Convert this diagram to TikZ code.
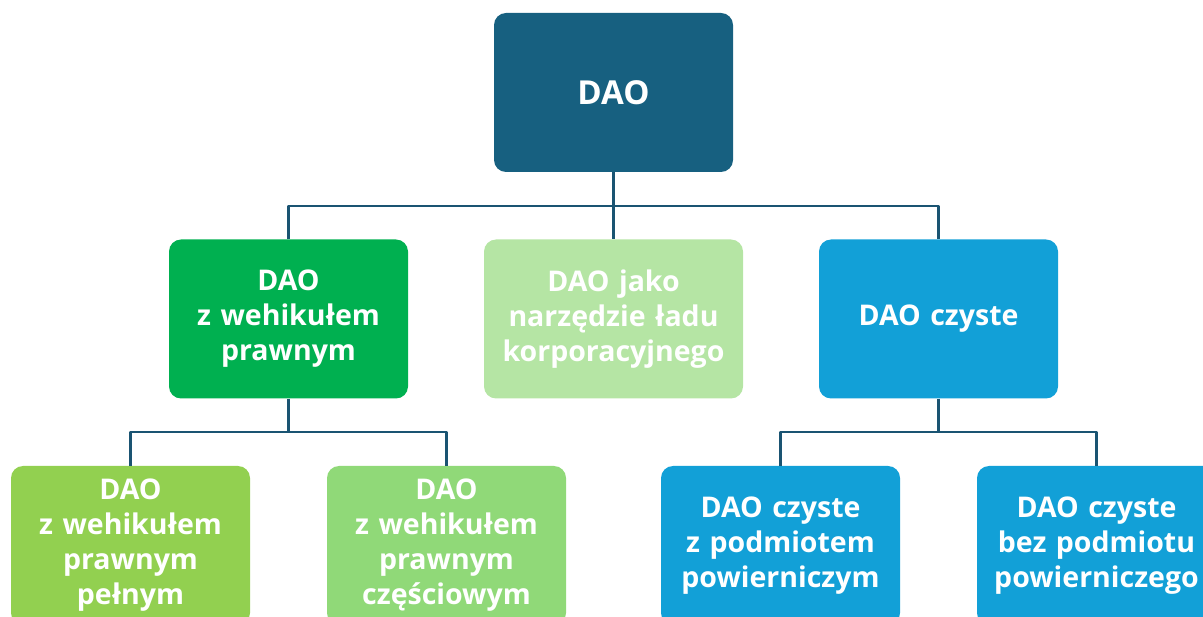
\documentclass[tikz,border=0pt]{standalone}
\usepackage{fontspec}
\setmainfont{Open Sans}
\definecolor{daoblue}{RGB}{23,96,128}
\definecolor{linkblue}{RGB}{26,84,114}
\definecolor{prawgreen}{RGB}{0,176,80}
\definecolor{ladgreen}{RGB}{181,229,164}
\definecolor{czysteblue}{RGB}{18,160,215}
\definecolor{pelgreen}{RGB}{146,208,80}
\definecolor{czesgreen}{RGB}{144,217,120}
\begin{document}
\begin{tikzpicture}[x=1pt,y=-1pt,line join=round,
	box/.style={rounded corners=12pt,minimum width=239pt,minimum height=159pt,inner sep=0pt,
		text width=236pt,align=center,text=white,font=\fontsize{28.5}{35}\selectfont\bfseries},
	conn/.style={draw=linkblue,line width=2.8pt}]
	\useasboundingbox (0,0) rectangle (1203,617);
	\clip (0,0) rectangle (1203,617);
	% top
	\node[box,fill=daoblue,font=\fontsize{33}{40}\selectfont\bfseries] (dao) at (613.5,92.5) {DAO};
	% middle row
	\node[box,fill=prawgreen] (praw) at (288.5,319) {DAO\\z wehikułem\\prawnym};
	\node[box,fill=ladgreen,minimum width=259pt,text width=256pt] (lad) at (613.5,319) {DAO jako\\narzędzie ładu\\korporacyjnego};
	\node[box,fill=czysteblue] (czyste) at (938.5,319) {DAO czyste};
	% bottom row
	\node[box,fill=pelgreen] (pelny) at (130.5,545.5) {DAO\\z wehikułem\\prawnym\\pełnym};
	\node[box,fill=czesgreen] (czesc) at (446.5,545.5) {DAO\\z wehikułem\\prawnym\\częściowym};
	\node[box,fill=czysteblue] (zpodm) at (780.5,545.5) {DAO czyste\\z podmiotem\\powierniczym};
	\node[box,fill=czysteblue] (bezpodm) at (1096.5,545.5) {DAO czyste\\bez podmiotu\\powierniczego};
	% connectors
	\coordinate (busA) at (613.5,206);
	\coordinate (busB) at (288.5,432);
	\coordinate (busC) at (938.5,432);
	\draw[conn] (dao.south) -- (busA);
	\draw[conn] (praw.north) |- (busA) -| (czyste.north);
	\draw[conn] (busA) -- (lad.north);
	\draw[conn] (praw.south) -- (busB);
	\draw[conn] (pelny.north) |- (busB) -| (czesc.north);
	\draw[conn] (czyste.south) -- (busC);
	\draw[conn] (zpodm.north) |- (busC) -| (bezpodm.north);
\end{tikzpicture}
\end{document}
